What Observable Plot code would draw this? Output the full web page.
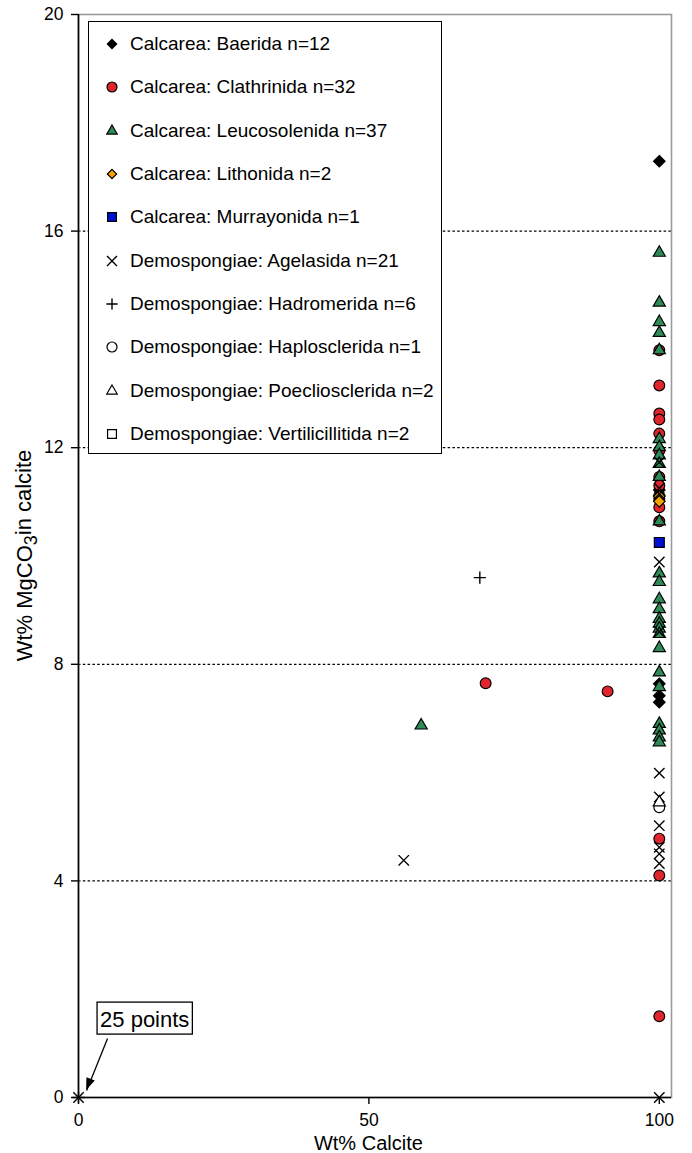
<!DOCTYPE html>
<html><head><meta charset="utf-8">
<script src="https://cdn.jsdelivr.net/npm/d3@7"></script>
<script src="https://cdn.jsdelivr.net/npm/@observablehq/plot@0.6"></script>
<style>
body{margin:0;background:#fff;font-family:"Liberation Sans",Arial,Helvetica,sans-serif;}
#wrap{position:relative;width:692px;height:1153px;overflow:hidden;}
#legend{position:absolute;left:88px;top:21px;width:354px;height:433px;border:1.5px solid #000;background:#fff;box-sizing:border-box;}
.row{position:absolute;left:0;height:30px;display:flex;align-items:center;font-size:19px;color:#000;white-space:nowrap;}
.row svg{margin-left:13px;margin-right:8px;}
</style></head>
<body><div id="wrap"><div id="legend"></div></div>
<script>
// ---- data ----
const seriesNames = [
  "Calcarea: Baerida n=12","Calcarea: Clathrinida n=32","Calcarea: Leucosolenida n=37",
  "Calcarea: Lithonida n=2","Calcarea: Murrayonida n=1","Demospongiae: Agelasida n=21",
  "Demospongiae: Hadromerida n=6","Demospongiae: Haplosclerida n=1",
  "Demospongiae: Poecliosclerida n=2","Demospongiae: Vertilicillitida n=2"];
const seriesSymbols = ["diamond2","circle","triangle","diamond2","square","times","plus","circle","triangle","square"];
const seriesFills = ["#000000","#e0262c","#2e8b57","#f5a300","#0010d0","none","none","#ffffff","#ffffff","#ffffff"];

const baerida = [[100,17.29],[100,11.22],[100,11.12],[100,7.64],[100,7.42],[100,7.30]];
const clathrinida = [[100,13.80],[100,13.15],[100,12.63],[100,12.52],[100,12.26],[100,11.95],[100,11.46],
  [100,11.30],[100,11.05],[100,10.90],[100,10.64],[100,4.78],[100,4.10],[100,1.50],[70.1,7.65],[91.1,7.50]];
const leucosolenida = [[100,15.60],[100,14.68],[100,14.32],[100,14.12],[100,13.80],[100,12.16],[100,12.01],
  [100,11.86],[100,11.70],[100,11.46],[100,10.64],[100,9.68],[100,9.52],[100,9.20],[100,9.02],[100,8.84],
  [100,8.75],[100,8.66],[100,8.56],[100,8.30],[100,7.85],[100,7.58],[100,6.90],[100,6.78],[100,6.65],
  [100,6.56],[59.0,6.87]];
const lithonida = [[100,11.10],[100,11.01]];
const murrayonida = [[100,10.25]];
const agelasida = [[0,0],[100,0],[56.0,4.38],[100,11.73],[100,11.25],[100,11.15],[100,9.89],[100,8.60],
  [100,5.99],[100,5.55],[100,5.02],[100,4.62],[100,4.50],[100,4.32]];
const hadromerida = [[69.1,9.60],[0,0]];
const haplosclerida = [[100,5.36]];
const poecilosclerida = [[100,5.45]];
const vertilicillitida = [];
const seriesData = [baerida, clathrinida, leucosolenida, lithonida, murrayonida,
  agelasida, hadromerida, haplosclerida, poecilosclerida, vertilicillitida];

const xTicks = [0, 50, 100];
const yTicks = [0, 4, 8, 12, 16, 20];
const gridY = [4, 8, 12, 16];
const annotLabel = [{x: 11.4, y: 1.43, text: "25 points"}];
const annotArrow = [{x1: 5.0, y1: 1.09, x2: 1.4, y2: 0.13}];

// ---- chart ----
const rFor = {circle: 5.4, triangle: 4.5, diamond2: 5.2, square: 5.6, times: 4.8, plus: 4.0};
const dots = seriesData.map((d, i) => Plot.dot(d, {
  x: p => p[0], y: p => p[1],
  symbol: seriesSymbols[i],
  r: rFor[seriesSymbols[i]],
  fill: seriesFills[i],
  stroke: "#000",
  strokeWidth: (seriesSymbols[i] === "times" || seriesSymbols[i] === "plus") ? 1.4 : 1.2
}));

const plot = Plot.plot({
  width: 692, height: 1153,
  marginLeft: 78, marginRight: 21, marginTop: 14, marginBottom: 56,
  style: {fontFamily: "'Liberation Sans', Arial, sans-serif", fontSize: "17.5px", background: "#fff", color: "#000"},
  x: {domain: [0, 102.1]},
  y: {domain: [0, 20]},
  marks: [
    Plot.ruleY(gridY, {stroke: "#000", strokeWidth: 1.2, strokeDasharray: "2.5,2.3"}),
    Plot.frame({stroke: "#9a9a9a", strokeWidth: 1.6}),
    Plot.ruleX([0], {stroke: "#000", strokeWidth: 1.6}),
    Plot.ruleY([0], {stroke: "#000", strokeWidth: 1.6}),
    Plot.axisY({ticks: yTicks, tickSize: 7, tickPadding: 8, label: null, strokeWidth: 1.4}),
    Plot.axisX({ticks: xTicks, tickSize: 7, tickPadding: 9, label: null, strokeWidth: 1.4}),
    ...dots,
    Plot.link(annotArrow, {x1: "x1", y1: "y1", x2: "x2", y2: "y2", stroke: "#000", strokeWidth: 1.3}),
    Plot.text(annotLabel, {x: "x", y: "y", text: "text", fontSize: 22, fill: "#000"})
  ]
});
document.getElementById("wrap").prepend(plot);

const svg = d3.select(plot);
const sx = plot.scale("x"), sy = plot.scale("y");
// box around annotation
svg.selectAll("text").filter(function(){ return this.textContent === "25 points"; }).each(function(){
  const b = this.getBBox();
  d3.select(this.parentNode).insert("rect", () => this)
    .attr("transform", this.getAttribute("transform"))
    .attr("x", b.x - 3).attr("y", b.y - 5).attr("width", b.width + 6).attr("height", b.height + 7)
    .attr("fill", "#fff").attr("stroke", "#000").attr("stroke-width", 1.3);
});
// filled arrowhead
annotArrow.forEach(a => {
  const x1 = sx.apply(a.x1), y1 = sy.apply(a.y1), x2 = sx.apply(a.x2), y2 = sy.apply(a.y2);
  const dx = x2 - x1, dy = y2 - y1, L = Math.hypot(dx, dy), ux = dx / L, uy = dy / L;
  const hl = 12, hw = 4.5, bx = x2 - ux * hl, by = y2 - uy * hl;
  svg.append("polygon")
    .attr("points", `${x2},${y2} ${bx - uy * hw},${by + ux * hw} ${bx + uy * hw},${by - ux * hw}`)
    .attr("fill", "#000");
});
// y-axis title with subscript
const yt = svg.append("text")
  .attr("transform", `translate(32,${(sy.apply(0) + sy.apply(20)) / 2}) rotate(-90)`)
  .attr("text-anchor", "middle").attr("font-size", 22).attr("fill", "#000");
yt.append("tspan").text("Wt% MgCO");
yt.append("tspan").attr("dy", "0.3em").attr("font-size", 18).text("3");
yt.append("tspan").attr("dy", "-0.3em").text("in calcite");
// x-axis title
svg.append("text").attr("x", sx.apply(50)).attr("y", 1150)
  .attr("text-anchor", "middle").attr("font-size", 20).attr("fill", "#000").text("Wt% Calcite");

// ---- legend ----
const symMap = {circle: d3.symbolCircle, triangle: d3.symbolTriangle, diamond2: d3.symbolDiamond2,
  square: d3.symbolSquare, times: d3.symbolTimes, plus: d3.symbolPlus};
const legendR = {circle: 5.0, triangle: 3.9, diamond2: 4.2, square: 5.0, times: 4.6, plus: 3.7};
const leg = d3.select("#legend");
seriesNames.forEach((name, i) => {
  const row = leg.append("div").attr("class", "row").style("top", (7 + i * 43.35) + "px");
  const s = row.append("svg").attr("width", 20).attr("height", 20);
  const t = seriesSymbols[i];
  s.append("path").attr("transform", "translate(10,10)")
    .attr("d", d3.symbol(symMap[t], Math.PI * legendR[t] ** 2)())
    .attr("fill", seriesFills[i]).attr("stroke", "#000")
    .attr("stroke-width", (t === "times" || t === "plus") ? 1.4 : 1.2);
  row.append("span").text(name);
});
</script></body></html>
